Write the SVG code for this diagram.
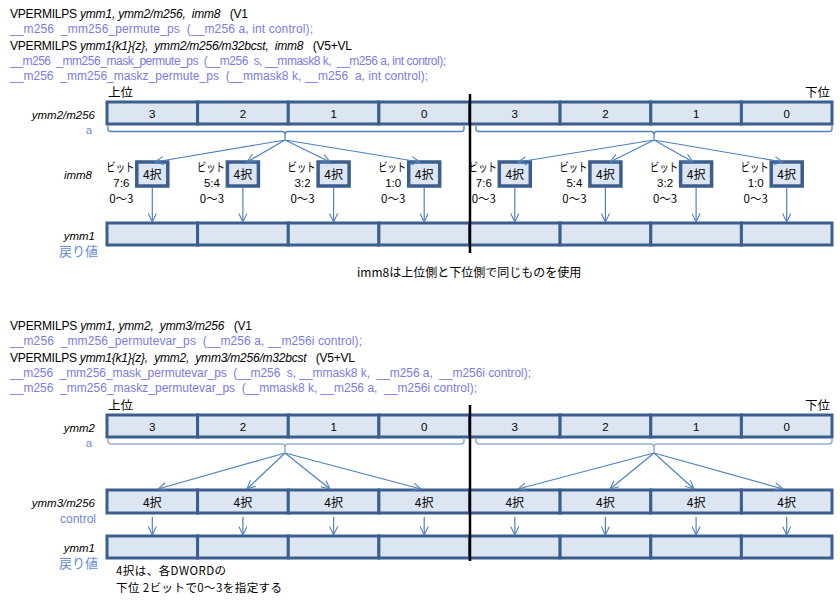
<svg xmlns="http://www.w3.org/2000/svg" width="840" height="603" viewBox="0 0 840 603">
<defs>
<marker id="ah" viewBox="0 0 10 10" refX="9.5" refY="5" markerWidth="9" markerHeight="9" markerUnits="userSpaceOnUse" orient="auto">
<path d="M0,0.5 L9.5,5 L0,9.5" fill="none" stroke="#4f81bd" stroke-width="1.2"/>
</marker>
<style>
.bg{fill:#ffffff}
.cell{fill:#dce6f2;stroke:#3b5e8c;stroke-width:3}
.box{fill:#dce6f2;stroke:#3b5e8c;stroke-width:3.5}
.conn{stroke:#4f81bd;stroke-width:1.2;fill:none;marker-end:url(#ah)}
.brace{stroke:#4f81bd;fill:none;stroke-width:1.3}
.brace2{stroke:#95b3d7;fill:none;stroke-width:1.6}
.div{stroke:#000;stroke-width:2.5}
text{font-family:"Liberation Sans","Noto Sans CJK JP",sans-serif;font-size:11.5px;fill:#000;white-space:pre}
.h{font-size:12px}
.jp{font-family:"Noto Sans CJK JP","Liberation Sans",sans-serif}
.bit{font-size:12px}
.it{font-style:italic}
.blue{fill:#7b7be6}
.lbl{fill:#6a8ad8}
.m{text-anchor:middle}
.e{text-anchor:end}
.c{font-size:12px}
</style>
</defs>
<rect class="bg" x="0" y="0" width="840" height="603"/>

<g id="header1">
<text x="10" y="18" class="h" textLength="238" xml:space="preserve">VPERMILPS <tspan class="it">ymm1, ymm2/m256,  imm8</tspan>   (V1</text>
<text x="10" y="33" class="h blue" textLength="303" xml:space="preserve">__m256  _mm256_permute_ps  (__m256 a, int control);</text>
<text x="10" y="50" class="h" textLength="342" xml:space="preserve">VPERMILPS <tspan class="it">ymm1{k1}{z},  ymm2/m256/m32bcst,  imm8</tspan>   (V5+VL</text>
<text x="10" y="65" class="h blue" textLength="436" xml:space="preserve">__m256  _mm256_mask_permute_ps  (__m256  s, __mmask8 k,  __m256 a, int control);</text>
<text x="10" y="80" class="h blue" textLength="418" xml:space="preserve">__m256  _mm256_maskz_permute_ps  (__mmask8 k, __m256  a, int control);</text>
</g>

<g id="labels1">
<text x="108" y="97" class="jp" style="font-size:12.5px">上位</text>
<text x="830" y="97" class="jp e" style="font-size:12.5px">下位</text>
<text x="95" y="119" class="it e">ymm2/m256</text>
<text x="89" y="134" class="lbl m">a</text>
<text x="92" y="179" class="it e">imm8</text>
<text x="95" y="240" class="it e">ymm1</text>
<text x="98" y="256" class="lbl e jp" style="font-size:13px">戻り値</text>
<text x="357" y="277" class="jp" style="font-size:12px">imm8は上位側と下位側で同じものを使用</text>
</g>

<g id="s1-ymm2">
<rect class="cell" x="107" y="102" width="90.6" height="22"/>
<rect class="cell" x="197.6" y="102" width="90.7" height="22"/>
<rect class="cell" x="288.3" y="102" width="90.6" height="22"/>
<rect class="cell" x="378.9" y="102" width="90.6" height="22"/>
<rect class="cell" x="469.5" y="102" width="90.6" height="22"/>
<rect class="cell" x="560.1" y="102" width="90.7" height="22"/>
<rect class="cell" x="650.8" y="102" width="90.6" height="22"/>
<rect class="cell" x="741.4" y="102" width="90.6" height="22"/>
<text class="m" x="152.3" y="118">3</text>
<text class="m" x="242.9" y="118">2</text>
<text class="m" x="333.6" y="118">1</text>
<text class="m" x="424.2" y="118">0</text>
<text class="m" x="514.8" y="118">3</text>
<text class="m" x="605.4" y="118">2</text>
<text class="m" x="696.1" y="118">1</text>
<text class="m" x="786.7" y="118">0</text>
</g>

<g id="s1-sel0"><rect class="box" x="136.8" y="162" width="31" height="24"/><text class="m c jp" x="152.3" y="179">4択</text>
<text class="jp bit" x="106.3" y="172" textLength="28" lengthAdjust="spacingAndGlyphs">ビット</text><text class="m" x="121.3" y="187">7:6</text><text class="m jp" x="121.3" y="203">0〜3</text></g>
<g id="s1-sel1"><rect class="box" x="227.4" y="162" width="31" height="24"/><text class="m c jp" x="242.9" y="179">4択</text>
<text class="jp bit" x="196.9" y="172" textLength="28" lengthAdjust="spacingAndGlyphs">ビット</text><text class="m" x="211.9" y="187">5:4</text><text class="m jp" x="211.9" y="203">0〜3</text></g>
<g id="s1-sel2"><rect class="box" x="318.1" y="162" width="31" height="24"/><text class="m c jp" x="333.6" y="179">4択</text>
<text class="jp bit" x="287.6" y="172" textLength="28" lengthAdjust="spacingAndGlyphs">ビット</text><text class="m" x="302.6" y="187">3:2</text><text class="m jp" x="302.6" y="203">0〜3</text></g>
<g id="s1-sel3"><rect class="box" x="408.7" y="162" width="31" height="24"/><text class="m c jp" x="424.2" y="179">4択</text>
<text class="jp bit" x="378.2" y="172" textLength="28" lengthAdjust="spacingAndGlyphs">ビット</text><text class="m" x="393.2" y="187">1:0</text><text class="m jp" x="393.2" y="203">0〜3</text></g>
<g id="s1-sel4"><rect class="box" x="499.3" y="162" width="31" height="24"/><text class="m c jp" x="514.8" y="179">4択</text>
<text class="jp bit" x="468.8" y="172" textLength="28" lengthAdjust="spacingAndGlyphs">ビット</text><text class="m" x="483.8" y="187">7:6</text><text class="m jp" x="483.8" y="203">0〜3</text></g>
<g id="s1-sel5"><rect class="box" x="589.9" y="162" width="31" height="24"/><text class="m c jp" x="605.4" y="179">4択</text>
<text class="jp bit" x="559.4" y="172" textLength="28" lengthAdjust="spacingAndGlyphs">ビット</text><text class="m" x="574.4" y="187">5:4</text><text class="m jp" x="574.4" y="203">0〜3</text></g>
<g id="s1-sel6"><rect class="box" x="680.6" y="162" width="31" height="24"/><text class="m c jp" x="696.1" y="179">4択</text>
<text class="jp bit" x="650.1" y="172" textLength="28" lengthAdjust="spacingAndGlyphs">ビット</text><text class="m" x="665.1" y="187">3:2</text><text class="m jp" x="665.1" y="203">0〜3</text></g>
<g id="s1-sel7"><rect class="box" x="771.2" y="162" width="31" height="24"/><text class="m c jp" x="786.7" y="179">4択</text>
<text class="jp bit" x="740.7" y="172" textLength="28" lengthAdjust="spacingAndGlyphs">ビット</text><text class="m" x="755.7" y="187">1:0</text><text class="m jp" x="755.7" y="203">0〜3</text></g>

<g id="s1-ymm1">
<rect class="cell" x="107" y="223" width="90.6" height="22"/>
<rect class="cell" x="197.6" y="223" width="90.7" height="22"/>
<rect class="cell" x="288.3" y="223" width="90.6" height="22"/>
<rect class="cell" x="378.9" y="223" width="90.6" height="22"/>
<rect class="cell" x="469.5" y="223" width="90.6" height="22"/>
<rect class="cell" x="560.1" y="223" width="90.7" height="22"/>
<rect class="cell" x="650.8" y="223" width="90.6" height="22"/>
<rect class="cell" x="741.4" y="223" width="90.6" height="22"/>
</g>

<g id="connectors1">
<path class="brace" d="M108,126 V129 Q108,131.5 111,131.5 H282 Q285,131.5 285,135 V139 M285,135 Q285,131.5 288,131.5 H461 Q464,131.5 464,129 V126"/>
<path class="brace" d="M476,126 V129 Q476,131.5 479,131.5 H651 Q654,131.5 654,135 V139 M654,135 Q654,131.5 657,131.5 H829 Q832,131.5 832,129 V126"/>
<line class="conn" x1="285" y1="140" x2="155" y2="162"/>
<line class="conn" x1="285" y1="140" x2="247" y2="162"/>
<line class="conn" x1="285" y1="140" x2="330" y2="162"/>
<line class="conn" x1="285" y1="140" x2="420" y2="162"/>
<line class="conn" x1="654" y1="140" x2="518" y2="162"/>
<line class="conn" x1="654" y1="140" x2="610" y2="162"/>
<line class="conn" x1="654" y1="140" x2="693" y2="162"/>
<line class="conn" x1="654" y1="140" x2="783" y2="162"/>
<line class="conn" x1="152.3" y1="187" x2="152.3" y2="222"/>
<line class="conn" x1="242.9" y1="187" x2="242.9" y2="222"/>
<line class="conn" x1="333.6" y1="187" x2="333.6" y2="222"/>
<line class="conn" x1="424.2" y1="187" x2="424.2" y2="222"/>
<line class="conn" x1="514.8" y1="187" x2="514.8" y2="222"/>
<line class="conn" x1="605.4" y1="187" x2="605.4" y2="222"/>
<line class="conn" x1="696.1" y1="187" x2="696.1" y2="222"/>
<line class="conn" x1="786.7" y1="187" x2="786.7" y2="222"/>
<line class="div" x1="470" y1="94" x2="470" y2="253"/>
</g>

<g id="header2">
<text x="10" y="330" class="h" textLength="242" xml:space="preserve">VPERMILPS <tspan class="it">ymm1, ymm2,  ymm3/m256</tspan>   (V1</text>
<text x="10" y="345" class="h blue" textLength="352" xml:space="preserve">__m256  _mm256_permutevar_ps  (__m256 a, __m256i control);</text>
<text x="10" y="362" class="h" textLength="345" xml:space="preserve">VPERMILPS <tspan class="it">ymm1{k1}{z},  ymm2,  ymm3/m256/m32bcst</tspan>   (V5+VL</text>
<text x="10" y="377" class="h blue" textLength="521" xml:space="preserve">__m256  _mm256_mask_permutevar_ps  (__m256  s, __mmask8 k,  __m256 a,  __m256i control);</text>
<text x="10" y="392" class="h blue" textLength="467" xml:space="preserve">__m256  _mm256_maskz_permutevar_ps  (__mmask8 k, __m256 a,  __m256i control);</text>
</g>

<g id="labels2">
<text x="108" y="410" class="jp" style="font-size:12.5px">上位</text>
<text x="830" y="410" class="jp e" style="font-size:12.5px">下位</text>
<text x="95" y="432" class="it e">ymm2</text>
<text x="89" y="447" class="lbl m">a</text>
<text x="95" y="507" class="it e">ymm3/m256</text>
<text x="96" y="523" class="lbl e" style="font-size:12px">control</text>
<text x="95" y="552" class="it e">ymm1</text>
<text x="98" y="568" class="lbl e jp" style="font-size:13px">戻り値</text>
<text x="116" y="575" class="jp" style="font-size:11.5px" textLength="110">4択は、各DWORDの</text>
<text x="116" y="592" class="jp" style="font-size:11.5px" textLength="166" xml:space="preserve">下位 2ビットで0〜3を指定する</text>
</g>

<g id="s2-ymm2">
<rect class="cell" x="107" y="415" width="90.6" height="22"/>
<rect class="cell" x="197.6" y="415" width="90.7" height="22"/>
<rect class="cell" x="288.3" y="415" width="90.6" height="22"/>
<rect class="cell" x="378.9" y="415" width="90.6" height="22"/>
<rect class="cell" x="469.5" y="415" width="90.6" height="22"/>
<rect class="cell" x="560.1" y="415" width="90.7" height="22"/>
<rect class="cell" x="650.8" y="415" width="90.6" height="22"/>
<rect class="cell" x="741.4" y="415" width="90.6" height="22"/>
<text class="m" x="152.3" y="431">3</text>
<text class="m" x="242.9" y="431">2</text>
<text class="m" x="333.6" y="431">1</text>
<text class="m" x="424.2" y="431">0</text>
<text class="m" x="514.8" y="431">3</text>
<text class="m" x="605.4" y="431">2</text>
<text class="m" x="696.1" y="431">1</text>
<text class="m" x="786.7" y="431">0</text>
</g>

<g id="s2-control">
<rect class="cell" x="107" y="490" width="90.6" height="23"/>
<rect class="cell" x="197.6" y="490" width="90.7" height="23"/>
<rect class="cell" x="288.3" y="490" width="90.6" height="23"/>
<rect class="cell" x="378.9" y="490" width="90.6" height="23"/>
<rect class="cell" x="469.5" y="490" width="90.6" height="23"/>
<rect class="cell" x="560.1" y="490" width="90.7" height="23"/>
<rect class="cell" x="650.8" y="490" width="90.6" height="23"/>
<rect class="cell" x="741.4" y="490" width="90.6" height="23"/>
<text class="m c jp" x="152.3" y="507">4択</text>
<text class="m c jp" x="242.9" y="507">4択</text>
<text class="m c jp" x="333.6" y="507">4択</text>
<text class="m c jp" x="424.2" y="507">4択</text>
<text class="m c jp" x="514.8" y="507">4択</text>
<text class="m c jp" x="605.4" y="507">4択</text>
<text class="m c jp" x="696.1" y="507">4択</text>
<text class="m c jp" x="786.7" y="507">4択</text>
</g>

<g id="s2-ymm1">
<rect class="cell" x="107" y="536" width="90.6" height="22"/>
<rect class="cell" x="197.6" y="536" width="90.7" height="22"/>
<rect class="cell" x="288.3" y="536" width="90.6" height="22"/>
<rect class="cell" x="378.9" y="536" width="90.6" height="22"/>
<rect class="cell" x="469.5" y="536" width="90.6" height="22"/>
<rect class="cell" x="560.1" y="536" width="90.7" height="22"/>
<rect class="cell" x="650.8" y="536" width="90.6" height="22"/>
<rect class="cell" x="741.4" y="536" width="90.6" height="22"/>
</g>

<g id="connectors2">
<path class="brace2" d="M108,439 V441 Q108,444 111,444 H282 Q285,444 285,447 V452 M285,447 Q285,444 288,444 H461 Q464,444 464,441 V439"/>
<path class="brace2" d="M476,439 V441 Q476,444 479,444 H651 Q654,444 654,447 V452 M654,447 Q654,444 657,444 H829 Q832,444 832,441 V439"/>
<line class="conn" x1="285" y1="453" x2="158" y2="489"/>
<line class="conn" x1="285" y1="453" x2="247" y2="489"/>
<line class="conn" x1="285" y1="453" x2="330" y2="489"/>
<line class="conn" x1="285" y1="453" x2="421" y2="489"/>
<line class="conn" x1="654" y1="453" x2="518" y2="489"/>
<line class="conn" x1="654" y1="453" x2="610" y2="489"/>
<line class="conn" x1="654" y1="453" x2="694" y2="489"/>
<line class="conn" x1="654" y1="453" x2="783" y2="489"/>
<line class="conn" x1="152.3" y1="517" x2="152.3" y2="535"/>
<line class="conn" x1="242.9" y1="517" x2="242.9" y2="535"/>
<line class="conn" x1="333.6" y1="517" x2="333.6" y2="535"/>
<line class="conn" x1="424.2" y1="517" x2="424.2" y2="535"/>
<line class="conn" x1="514.8" y1="517" x2="514.8" y2="535"/>
<line class="conn" x1="605.4" y1="517" x2="605.4" y2="535"/>
<line class="conn" x1="696.1" y1="517" x2="696.1" y2="535"/>
<line class="conn" x1="786.7" y1="517" x2="786.7" y2="535"/>
<line class="div" x1="470" y1="405" x2="470" y2="561"/>
</g>
</svg>
